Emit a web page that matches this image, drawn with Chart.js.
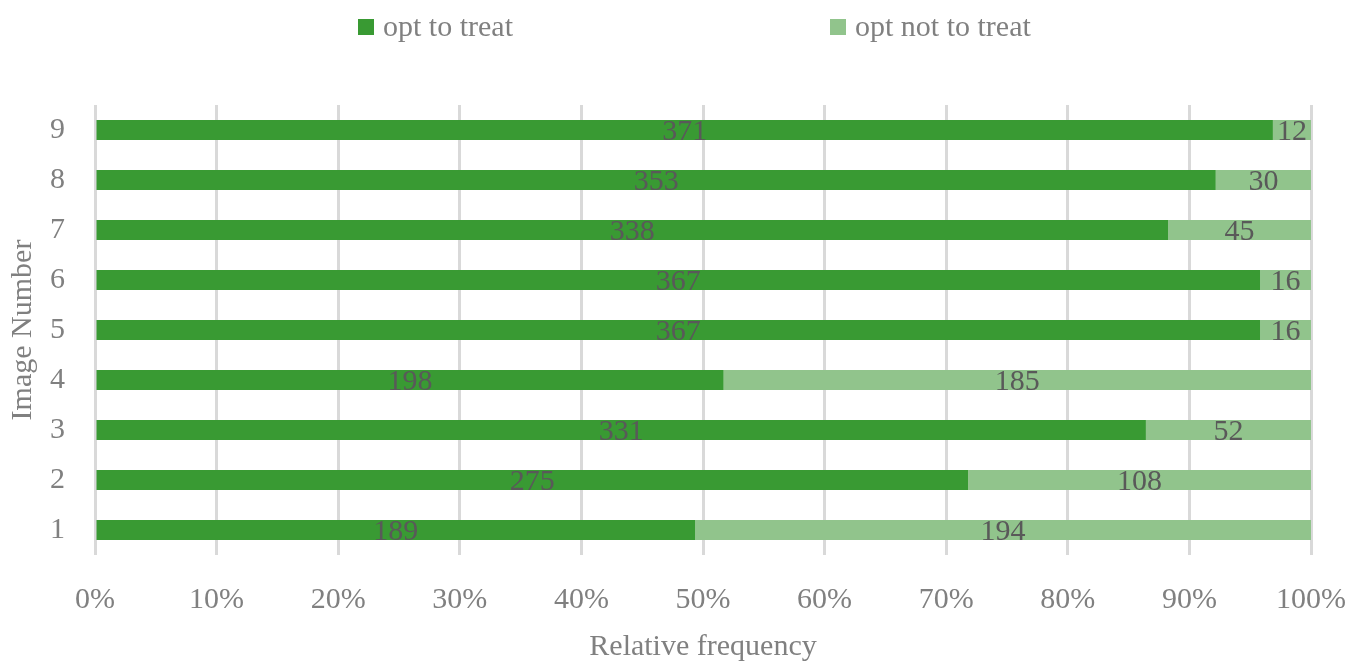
<!DOCTYPE html>
<html>
<head>
<meta charset="utf-8">
<script src="https://cdn.jsdelivr.net/npm/chart.js@4"></script>
<style>
html,body{margin:0;padding:0;background:#fff;}
#wrap{width:1359px;height:662px;position:relative;}
</style>
</head>
<body>
<div id="wrap"><canvas id="c" width="1359" height="662"></canvas></div>
<script>
const categories = ['1','2','3','4','5','6','7','8','9'];
const optToTreat = [189, 275, 331, 198, 367, 367, 338, 353, 371];
const optNotToTreat = [194, 108, 52, 185, 16, 16, 45, 30, 12];
const seriesNames = ['opt to treat', 'opt not to treat'];
const seriesColors = ['#399a33', '#91c48c'];
const xTickLabels = ['0%','10%','20%','30%','40%','50%','60%','70%','80%','90%','100%'];

const FONT = '"Liberation Serif", "Times New Roman", serif';
const FS = 30;
const TICK_COLOR = '#808080';
const LABEL_COLOR = '#595959';

const totals = categories.map((c, i) => optToTreat[i] + optNotToTreat[i]);
const raw = [optToTreat, optNotToTreat];

const datasets = raw.map((arr, k) => ({
  label: seriesNames[k],
  data: arr.map((v, i) => v / totals[i] * 100),
  rawValues: arr,
  backgroundColor: seriesColors[k],
  borderWidth: 0,
  barPercentage: 0.4,
  categoryPercentage: 1.0
}));

const legendPlugin = {
  id: 'customLegend',
  afterDraw(chart) {
    const ctx = chart.ctx;
    const items = [{x: 358}, {x: 830}];
    ctx.save();
    ctx.font = FS + 'px ' + FONT;
    ctx.textBaseline = 'middle';
    ctx.textAlign = 'left';
    items.forEach((it, k) => {
      ctx.fillStyle = seriesColors[k];
      ctx.fillRect(it.x, 19, 16, 16);
      ctx.fillStyle = TICK_COLOR;
      ctx.fillText(seriesNames[k], it.x + 25, 28);
    });
    ctx.restore();
  }
};

const valueLabels = {
  id: 'valueLabels',
  afterDatasetsDraw(chart) {
    const ctx = chart.ctx;
    ctx.save();
    ctx.font = FS + 'px ' + FONT;
    ctx.fillStyle = LABEL_COLOR;
    ctx.textAlign = 'center';
    ctx.textBaseline = 'middle';
    chart.data.datasets.forEach((ds, di) => {
      const meta = chart.getDatasetMeta(di);
      meta.data.forEach((el, i) => {
        const cx = (el.x + el.base) / 2;
        ctx.fillText(String(ds.rawValues[i]), cx, el.y + 2);
      });
    });
    ctx.restore();
  }
};

new Chart(document.getElementById('c'), {
  type: 'bar',
  data: { labels: categories, datasets },
  options: {
    indexAxis: 'y',
    responsive: false,
    animation: false,
    devicePixelRatio: 1,
    layout: { padding: { top: 105, right: 48, left: 0, bottom: 0 } },
    plugins: {
      legend: { display: false },
      tooltip: { enabled: false }
    },
    scales: {
      x: {
        stacked: true,
        min: 0,
        max: 100,
        afterFit(scale) {
          scale.height = 107;
          scale.paddingLeft = 0;
          scale.paddingRight = 0;
        },
        afterBuildTicks(scale) {
          scale.ticks = xTickLabels.map((t, i) => ({ value: i * 10 }));
        },
        ticks: {
          stepSize: 10,
          color: TICK_COLOR,
          font: { family: FONT, size: FS },
          padding: 27,
          callback: (v, i) => xTickLabels[i]
        },
        grid: { color: '#d9d9d9', lineWidth: 3, drawTicks: false },
        border: { display: false },
        title: {
          display: true,
          text: 'Relative frequency',
          color: TICK_COLOR,
          font: { family: FONT, size: FS },
          padding: { top: 0, bottom: -3 }
        }
      },
      y: {
        stacked: true,
        reverse: true,
        afterFit(scale) { scale.width = 95; },
        ticks: {
          color: TICK_COLOR,
          font: { family: FONT, size: FS },
          padding: 30
        },
        grid: { display: false, drawTicks: false },
        border: { display: false },
        title: {
          display: true,
          text: 'Image Number',
          color: TICK_COLOR,
          font: { family: FONT, size: FS },
          padding: { top: 5, bottom: 0 }
        }
      }
    }
  },
  plugins: [legendPlugin, valueLabels]
});
</script>
</body>
</html>
